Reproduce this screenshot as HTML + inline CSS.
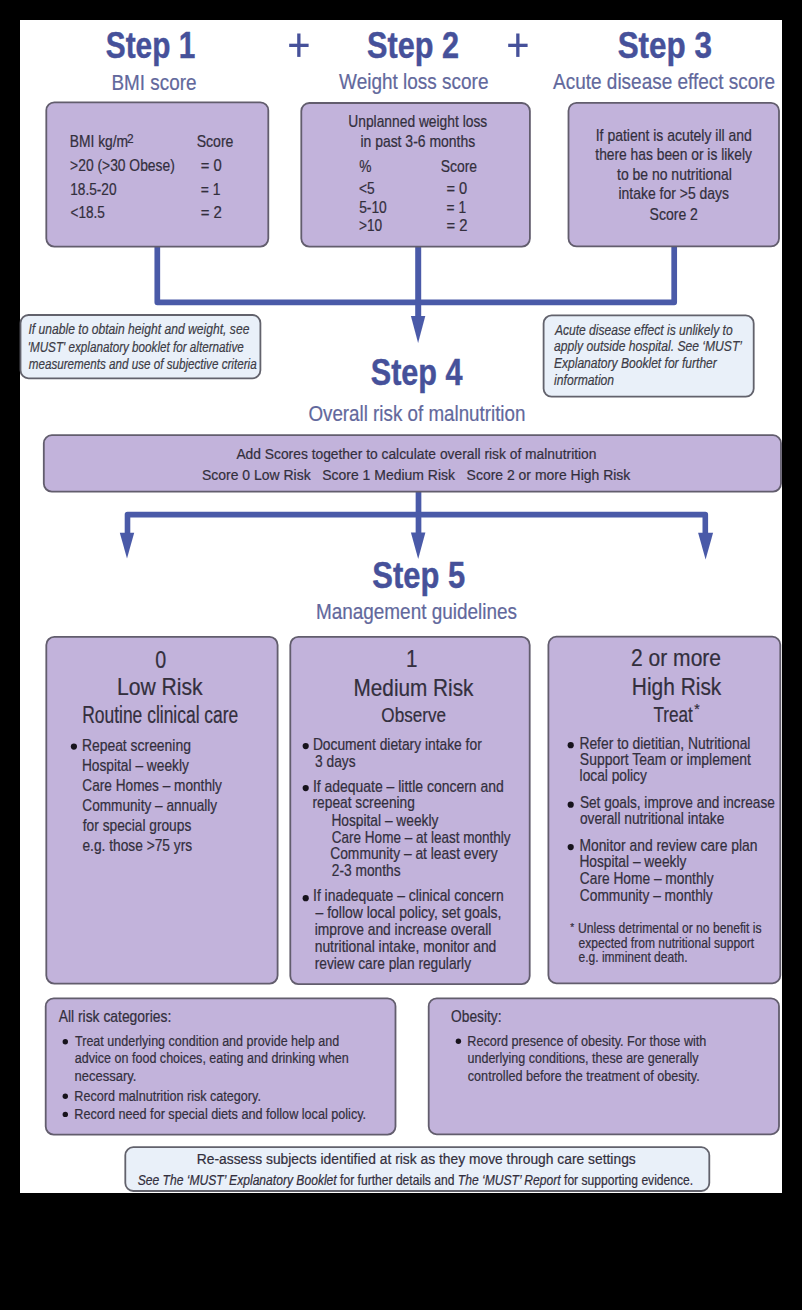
<!DOCTYPE html>
<html><head><meta charset="utf-8"><style>
html,body{margin:0;padding:0;background:#000;}
body{width:802px;height:1310px;overflow:hidden;position:relative;}
svg{position:absolute;left:0;top:0;}
text{font-family:"Liberation Sans",sans-serif;}
</style></head><body>
<svg width="802" height="1310" viewBox="0 0 802 1310">
<rect x="0" y="0" width="802" height="1310" fill="#000"/>
<rect x="20" y="20" width="762" height="1173" fill="#fff"/>
<g font-family="Liberation Sans, sans-serif">
<path d="M157.3,246 V302.3 H674.2 V246" fill="none" stroke="#4a5aa8" stroke-width="5.7" stroke-linejoin="round"/>
<path d="M418.2,246 V318" fill="none" stroke="#4a5aa8" stroke-width="6"/>
<path d="M418.5,491.8 V534" fill="none" stroke="#4a5aa8" stroke-width="5.7"/>
<path d="M127.5,534 V514.6 H705.3 V534" fill="none" stroke="#4a5aa8" stroke-width="5.6" stroke-linejoin="round"/>
<text transform="translate(105.81,58.00) scale(0.8168,1)" font-size="36.5" font-weight="bold" font-style="normal" fill="#46519a" stroke="#46519a" stroke-width="0.45" xml:space="preserve">Step 1</text>
<text transform="translate(367.08,58.00) scale(0.8397,1)" font-size="36.5" font-weight="bold" font-style="normal" fill="#46519a" stroke="#46519a" stroke-width="0.45" xml:space="preserve">Step 2</text>
<text transform="translate(617.66,57.80) scale(0.8607,1)" font-size="36.5" font-weight="bold" font-style="normal" fill="#46519a" stroke="#46519a" stroke-width="0.45" xml:space="preserve">Step 3</text>
<text transform="translate(111.49,89.60) scale(0.8781,1)" font-size="21.5" font-weight="normal" font-style="normal" fill="#62689c" stroke="#62689c" stroke-width="0.22" xml:space="preserve">BMI score</text>
<text transform="translate(339.11,89.40) scale(0.8827,1)" font-size="21.5" font-weight="normal" font-style="normal" fill="#62689c" stroke="#62689c" stroke-width="0.22" xml:space="preserve">Weight loss score</text>
<text transform="translate(553.10,89.40) scale(0.8824,1)" font-size="21.5" font-weight="normal" font-style="normal" fill="#62689c" stroke="#62689c" stroke-width="0.22" xml:space="preserve">Acute disease effect score</text>
<rect x="289.2" y="43.7" width="19.4" height="3.3" fill="#46519a"/>
<rect x="297.2" y="33.5" width="3.3" height="23.4" fill="#46519a"/>
<rect x="508.2" y="43.7" width="19.4" height="3.3" fill="#46519a"/>
<rect x="516.2" y="33.5" width="3.3" height="23.4" fill="#46519a"/>
<rect x="46.3" y="102.3" width="222.0" height="144.3" rx="8" ry="8" fill="#c2b3db" stroke="#625d6d" stroke-width="1.8"/>
<rect x="301.3" y="103.0" width="228.6" height="143.6" rx="8" ry="8" fill="#c2b3db" stroke="#625d6d" stroke-width="1.8"/>
<rect x="568.5" y="102.8" width="210.5" height="143.6" rx="8" ry="8" fill="#c2b3db" stroke="#625d6d" stroke-width="1.8"/>
<text transform="translate(69.69,147.00) scale(0.8655,1)" font-size="16" font-weight="normal" font-style="normal" fill="#332f3d" stroke="#332f3d" stroke-width="0.22" xml:space="preserve">BMI kg/m</text>
<text transform="translate(127.01,142.50) scale(0.9129,1)" font-size="13" font-weight="normal" font-style="normal" fill="#332f3d" stroke="#332f3d" stroke-width="0.22" xml:space="preserve">2</text>
<text transform="translate(196.67,147.00) scale(0.8805,1)" font-size="16" font-weight="normal" font-style="normal" fill="#332f3d" stroke="#332f3d" stroke-width="0.22" xml:space="preserve">Score</text>
<text transform="translate(70.11,171.20) scale(0.8658,1)" font-size="16" font-weight="normal" font-style="normal" fill="#332f3d" stroke="#332f3d" stroke-width="0.22" xml:space="preserve">&gt;20 (&gt;30 Obese)</text>
<text transform="translate(200.66,171.20) scale(0.9258,1)" font-size="16" font-weight="normal" font-style="normal" fill="#332f3d" stroke="#332f3d" stroke-width="0.22" xml:space="preserve">= 0</text>
<text transform="translate(70.17,194.80) scale(0.8556,1)" font-size="16" font-weight="normal" font-style="normal" fill="#332f3d" stroke="#332f3d" stroke-width="0.22" xml:space="preserve">18.5-20</text>
<text transform="translate(200.70,194.80) scale(0.8712,1)" font-size="16" font-weight="normal" font-style="normal" fill="#332f3d" stroke="#332f3d" stroke-width="0.22" xml:space="preserve">= 1</text>
<text transform="translate(70.52,218.30) scale(0.8504,1)" font-size="16" font-weight="normal" font-style="normal" fill="#332f3d" stroke="#332f3d" stroke-width="0.22" xml:space="preserve">&lt;18.5</text>
<text transform="translate(200.65,218.30) scale(0.9363,1)" font-size="16" font-weight="normal" font-style="normal" fill="#332f3d" stroke="#332f3d" stroke-width="0.22" xml:space="preserve">= 2</text>
<text transform="translate(348.26,127.30) scale(0.8637,1)" font-size="16" font-weight="normal" font-style="normal" fill="#332f3d" stroke="#332f3d" stroke-width="0.22" xml:space="preserve">Unplanned weight loss</text>
<text transform="translate(360.39,147.40) scale(0.8731,1)" font-size="16" font-weight="normal" font-style="normal" fill="#332f3d" stroke="#332f3d" stroke-width="0.22" xml:space="preserve">in past 3-6 months</text>
<text transform="translate(359.22,171.80) scale(0.8600,1)" font-size="16" font-weight="normal" font-style="normal" fill="#332f3d" stroke="#332f3d" stroke-width="0.22" xml:space="preserve">%</text>
<text transform="translate(440.77,171.80) scale(0.8681,1)" font-size="16" font-weight="normal" font-style="normal" fill="#332f3d" stroke="#332f3d" stroke-width="0.22" xml:space="preserve">Score</text>
<text transform="translate(359.01,193.50) scale(0.8600,1)" font-size="16" font-weight="normal" font-style="normal" fill="#332f3d" stroke="#332f3d" stroke-width="0.22" xml:space="preserve">&lt;5</text>
<text transform="translate(359.15,212.50) scale(0.8636,1)" font-size="16" font-weight="normal" font-style="normal" fill="#332f3d" stroke="#332f3d" stroke-width="0.22" xml:space="preserve">5-10</text>
<text transform="translate(359.02,231.00) scale(0.8540,1)" font-size="16" font-weight="normal" font-style="normal" fill="#332f3d" stroke="#332f3d" stroke-width="0.22" xml:space="preserve">&gt;10</text>
<text transform="translate(446.47,193.50) scale(0.9164,1)" font-size="16" font-weight="normal" font-style="normal" fill="#332f3d" stroke="#332f3d" stroke-width="0.22" xml:space="preserve">= 0</text>
<text transform="translate(446.51,212.50) scale(0.8617,1)" font-size="16" font-weight="normal" font-style="normal" fill="#332f3d" stroke="#332f3d" stroke-width="0.22" xml:space="preserve">= 1</text>
<text transform="translate(446.46,231.00) scale(0.9268,1)" font-size="16" font-weight="normal" font-style="normal" fill="#332f3d" stroke="#332f3d" stroke-width="0.22" xml:space="preserve">= 2</text>
<text transform="translate(595.74,140.90) scale(0.8738,1)" font-size="16" font-weight="normal" font-style="normal" fill="#332f3d" stroke="#332f3d" stroke-width="0.22" xml:space="preserve">If patient is acutely ill and</text>
<text transform="translate(595.29,160.30) scale(0.8637,1)" font-size="16" font-weight="normal" font-style="normal" fill="#332f3d" stroke="#332f3d" stroke-width="0.22" xml:space="preserve">there has been or is likely</text>
<text transform="translate(617.09,179.80) scale(0.8725,1)" font-size="16" font-weight="normal" font-style="normal" fill="#332f3d" stroke="#332f3d" stroke-width="0.22" xml:space="preserve">to be no nutritional</text>
<text transform="translate(618.49,199.20) scale(0.8728,1)" font-size="16" font-weight="normal" font-style="normal" fill="#332f3d" stroke="#332f3d" stroke-width="0.22" xml:space="preserve">intake for &gt;5 days</text>
<text transform="translate(649.57,220.20) scale(0.8769,1)" font-size="16" font-weight="normal" font-style="normal" fill="#332f3d" stroke="#332f3d" stroke-width="0.22" xml:space="preserve">Score 2</text>
<path d="M410.9,316.0 L425.3,316.0 L418.1,343.0 Z" fill="#4a5aa8"/>
<rect x="20.5" y="315.0" width="239.9" height="63.3" rx="8" ry="8" fill="#e9f0f9" stroke="#62626c" stroke-width="1.8"/>
<text transform="translate(28.42,334.00) scale(0.8359,1)" font-size="14.5" font-weight="normal" font-style="italic" fill="#3c3c46" stroke="#3c3c46" stroke-width="0.2" xml:space="preserve">If unable to obtain height and weight, see</text>
<text transform="translate(27.73,351.60) scale(0.8059,1)" font-size="14.5" font-weight="normal" font-style="italic" fill="#3c3c46" stroke="#3c3c46" stroke-width="0.2" xml:space="preserve">'MUST' explanatory booklet for alternative</text>
<text transform="translate(28.73,369.00) scale(0.8043,1)" font-size="14.5" font-weight="normal" font-style="italic" fill="#3c3c46" stroke="#3c3c46" stroke-width="0.2" xml:space="preserve">measurements and use of subjective criteria</text>
<rect x="543.6" y="315.4" width="210.1" height="81.3" rx="8" ry="8" fill="#e9f0f9" stroke="#62626c" stroke-width="1.8"/>
<text transform="translate(554.90,334.60) scale(0.8337,1)" font-size="14.5" font-weight="normal" font-style="italic" fill="#3c3c46" stroke="#3c3c46" stroke-width="0.2" xml:space="preserve">Acute disease effect is unlikely to</text>
<text transform="translate(554.06,351.20) scale(0.8365,1)" font-size="14.5" font-weight="normal" font-style="italic" fill="#3c3c46" stroke="#3c3c46" stroke-width="0.2" xml:space="preserve">apply outside hospital. See ‘MUST’</text>
<text transform="translate(553.94,368.20) scale(0.8326,1)" font-size="14.5" font-weight="normal" font-style="italic" fill="#3c3c46" stroke="#3c3c46" stroke-width="0.2" xml:space="preserve">Explanatory Booklet for further</text>
<text transform="translate(554.12,385.40) scale(0.8372,1)" font-size="14.5" font-weight="normal" font-style="italic" fill="#3c3c46" stroke="#3c3c46" stroke-width="0.2" xml:space="preserve">information</text>
<text transform="translate(370.78,384.70) scale(0.8381,1)" font-size="36.5" font-weight="bold" font-style="normal" fill="#46519a" stroke="#46519a" stroke-width="0.45" xml:space="preserve">Step 4</text>
<text transform="translate(308.45,421.40) scale(0.8539,1)" font-size="22" font-weight="normal" font-style="normal" fill="#62689c" stroke="#62689c" stroke-width="0.22" xml:space="preserve">Overall risk of malnutrition</text>
<rect x="43.8" y="435.2" width="737.2" height="56.4" rx="8" ry="8" fill="#c2b3db" stroke="#625d6d" stroke-width="1.8"/>
<text transform="translate(236.40,459.00) scale(0.8921,1)" font-size="15.5" font-weight="normal" font-style="normal" fill="#332f3d" stroke="#332f3d" stroke-width="0.22" xml:space="preserve">Add Scores together to calculate overall risk of malnutrition</text>
<text transform="translate(201.97,479.90) scale(0.9011,1)" font-size="15.5" font-weight="normal" font-style="normal" fill="#332f3d" stroke="#332f3d" stroke-width="0.22" xml:space="preserve">Score 0 Low Risk   Score 1 Medium Risk   Score 2 or more High Risk</text>
<path d="M410.9,532.6 L425.4,532.6 L418.2,559.0 Z" fill="#4a5aa8"/>
<path d="M119.8,532.7 L134.2,532.7 L127.0,558.4 Z" fill="#4a5aa8"/>
<path d="M698.1,532.8 L713.1,532.8 L705.6,559.5 Z" fill="#4a5aa8"/>
<text transform="translate(372.27,587.90) scale(0.8475,1)" font-size="36.5" font-weight="bold" font-style="normal" fill="#46519a" stroke="#46519a" stroke-width="0.45" xml:space="preserve">Step 5</text>
<text transform="translate(315.88,618.90) scale(0.8619,1)" font-size="22" font-weight="normal" font-style="normal" fill="#62689c" stroke="#62689c" stroke-width="0.22" xml:space="preserve">Management guidelines</text>
<rect x="46.3" y="636.9" width="231.3" height="346.7" rx="8" ry="8" fill="#c2b3db" stroke="#625d6d" stroke-width="1.8"/>
<rect x="290.3" y="636.9" width="239.4" height="347.2" rx="8" ry="8" fill="#c2b3db" stroke="#625d6d" stroke-width="1.8"/>
<rect x="548.4" y="636.7" width="231.9" height="346.6" rx="8" ry="8" fill="#c2b3db" stroke="#625d6d" stroke-width="1.8"/>
<text transform="translate(155.29,667.60) scale(0.8200,1)" font-size="24" font-weight="normal" font-style="normal" fill="#332f3d" stroke="#332f3d" stroke-width="0.22" xml:space="preserve">0</text>
<text transform="translate(116.91,694.70) scale(0.9188,1)" font-size="23" font-weight="normal" font-style="normal" fill="#332f3d" stroke="#332f3d" stroke-width="0.22" xml:space="preserve">Low Risk</text>
<text transform="translate(82.20,722.60) scale(0.7587,1)" font-size="23" font-weight="normal" font-style="normal" fill="#332f3d" stroke="#332f3d" stroke-width="0.22" xml:space="preserve">Routine clinical care</text>
<circle cx="73.9" cy="746.6" r="3.1" fill="#17131c"/>
<text transform="translate(81.89,751.30) scale(0.8696,1)" font-size="16" font-weight="normal" font-style="normal" fill="#332f3d" stroke="#332f3d" stroke-width="0.22" xml:space="preserve">Repeat screening</text>
<text transform="translate(81.90,771.40) scale(0.8600,1)" font-size="16" font-weight="normal" font-style="normal" fill="#332f3d" stroke="#332f3d" stroke-width="0.22" xml:space="preserve">Hospital – weekly</text>
<text transform="translate(82.32,790.80) scale(0.8538,1)" font-size="16" font-weight="normal" font-style="normal" fill="#332f3d" stroke="#332f3d" stroke-width="0.22" xml:space="preserve">Care Homes – monthly</text>
<text transform="translate(82.32,810.90) scale(0.8520,1)" font-size="16" font-weight="normal" font-style="normal" fill="#332f3d" stroke="#332f3d" stroke-width="0.22" xml:space="preserve">Community – annually</text>
<text transform="translate(82.79,831.30) scale(0.8600,1)" font-size="16" font-weight="normal" font-style="normal" fill="#332f3d" stroke="#332f3d" stroke-width="0.22" xml:space="preserve">for special groups</text>
<text transform="translate(82.45,851.40) scale(0.8600,1)" font-size="16" font-weight="normal" font-style="normal" fill="#332f3d" stroke="#332f3d" stroke-width="0.22" xml:space="preserve">e.g. those &gt;75 yrs</text>
<text transform="translate(405.96,667.20) scale(0.8600,1)" font-size="24" font-weight="normal" font-style="normal" fill="#332f3d" stroke="#332f3d" stroke-width="0.22" xml:space="preserve">1</text>
<text transform="translate(353.54,696.30) scale(0.9024,1)" font-size="23" font-weight="normal" font-style="normal" fill="#332f3d" stroke="#332f3d" stroke-width="0.22" xml:space="preserve">Medium Risk</text>
<text transform="translate(381.33,722.20) scale(0.8156,1)" font-size="21" font-weight="normal" font-style="normal" fill="#332f3d" stroke="#332f3d" stroke-width="0.22" xml:space="preserve">Observe</text>
<circle cx="305.7" cy="746.1" r="3.1" fill="#17131c"/>
<text transform="translate(312.89,749.60) scale(0.8636,1)" font-size="16" font-weight="normal" font-style="normal" fill="#332f3d" stroke="#332f3d" stroke-width="0.22" xml:space="preserve">Document dietary intake for</text>
<text transform="translate(315.05,766.60) scale(0.8600,1)" font-size="16" font-weight="normal" font-style="normal" fill="#332f3d" stroke="#332f3d" stroke-width="0.22" xml:space="preserve">3 days</text>
<circle cx="305.7" cy="788.1" r="3.1" fill="#17131c"/>
<text transform="translate(312.94,791.50) scale(0.8728,1)" font-size="16" font-weight="normal" font-style="normal" fill="#332f3d" stroke="#332f3d" stroke-width="0.22" xml:space="preserve">If adequate – little concern and</text>
<text transform="translate(312.51,808.10) scale(0.8600,1)" font-size="16" font-weight="normal" font-style="normal" fill="#332f3d" stroke="#332f3d" stroke-width="0.22" xml:space="preserve">repeat screening</text>
<text transform="translate(331.40,826.00) scale(0.8600,1)" font-size="16" font-weight="normal" font-style="normal" fill="#332f3d" stroke="#332f3d" stroke-width="0.22" xml:space="preserve">Hospital – weekly</text>
<text transform="translate(331.82,842.80) scale(0.8455,1)" font-size="16" font-weight="normal" font-style="normal" fill="#332f3d" stroke="#332f3d" stroke-width="0.22" xml:space="preserve">Care Home – at least monthly</text>
<text transform="translate(330.21,859.30) scale(0.8646,1)" font-size="16" font-weight="normal" font-style="normal" fill="#332f3d" stroke="#332f3d" stroke-width="0.22" xml:space="preserve">Community – at least every</text>
<text transform="translate(331.81,875.50) scale(0.8600,1)" font-size="16" font-weight="normal" font-style="normal" fill="#332f3d" stroke="#332f3d" stroke-width="0.22" xml:space="preserve">2-3 months</text>
<circle cx="305.7" cy="898.2" r="3.1" fill="#17131c"/>
<text transform="translate(313.05,901.40) scale(0.8688,1)" font-size="16" font-weight="normal" font-style="normal" fill="#332f3d" stroke="#332f3d" stroke-width="0.22" xml:space="preserve">If inadequate – clinical concern</text>
<text transform="translate(315.60,918.20) scale(0.8727,1)" font-size="16" font-weight="normal" font-style="normal" fill="#332f3d" stroke="#332f3d" stroke-width="0.22" xml:space="preserve">– follow local policy, set goals,</text>
<text transform="translate(314.70,935.00) scale(0.8651,1)" font-size="16" font-weight="normal" font-style="normal" fill="#332f3d" stroke="#332f3d" stroke-width="0.22" xml:space="preserve">improve and increase overall</text>
<text transform="translate(314.70,951.80) scale(0.8661,1)" font-size="16" font-weight="normal" font-style="normal" fill="#332f3d" stroke="#332f3d" stroke-width="0.22" xml:space="preserve">nutritional intake, monitor and</text>
<text transform="translate(314.71,968.50) scale(0.8583,1)" font-size="16" font-weight="normal" font-style="normal" fill="#332f3d" stroke="#332f3d" stroke-width="0.22" xml:space="preserve">review care plan regularly</text>
<text transform="translate(630.95,666.40) scale(0.9163,1)" font-size="23" font-weight="normal" font-style="normal" fill="#332f3d" stroke="#332f3d" stroke-width="0.22" xml:space="preserve">2 or more</text>
<text transform="translate(631.83,695.20) scale(0.8720,1)" font-size="24" font-weight="normal" font-style="normal" fill="#332f3d" stroke="#332f3d" stroke-width="0.22" xml:space="preserve">High Risk</text>
<text transform="translate(653.46,722.00) scale(0.7970,1)" font-size="21.5" font-weight="normal" font-style="normal" fill="#332f3d" stroke="#332f3d" stroke-width="0.22" xml:space="preserve">Treat</text>
<text transform="translate(694.29,713.50) scale(1.0000,1)" font-size="14" font-weight="normal" font-style="normal" fill="#332f3d" stroke="#332f3d" stroke-width="0.22" xml:space="preserve">*</text>
<circle cx="570.7" cy="745.2" r="3.1" fill="#17131c"/>
<text transform="translate(579.39,749.00) scale(0.8665,1)" font-size="16" font-weight="normal" font-style="normal" fill="#332f3d" stroke="#332f3d" stroke-width="0.22" xml:space="preserve">Refer to dietitian, Nutritional</text>
<text transform="translate(579.87,765.30) scale(0.8724,1)" font-size="16" font-weight="normal" font-style="normal" fill="#332f3d" stroke="#332f3d" stroke-width="0.22" xml:space="preserve">Support Team or implement</text>
<text transform="translate(579.61,780.90) scale(0.8600,1)" font-size="16" font-weight="normal" font-style="normal" fill="#332f3d" stroke="#332f3d" stroke-width="0.22" xml:space="preserve">local policy</text>
<circle cx="570.7" cy="804.7" r="3.1" fill="#17131c"/>
<text transform="translate(579.89,808.30) scale(0.8537,1)" font-size="16" font-weight="normal" font-style="normal" fill="#332f3d" stroke="#332f3d" stroke-width="0.22" xml:space="preserve">Set goals, improve and increase</text>
<text transform="translate(579.95,824.30) scale(0.8600,1)" font-size="16" font-weight="normal" font-style="normal" fill="#332f3d" stroke="#332f3d" stroke-width="0.22" xml:space="preserve">overall nutritional intake</text>
<circle cx="570.7" cy="847.1" r="3.1" fill="#17131c"/>
<text transform="translate(579.39,850.50) scale(0.8670,1)" font-size="16" font-weight="normal" font-style="normal" fill="#332f3d" stroke="#332f3d" stroke-width="0.22" xml:space="preserve">Monitor and review care plan</text>
<text transform="translate(579.40,867.00) scale(0.8600,1)" font-size="16" font-weight="normal" font-style="normal" fill="#332f3d" stroke="#332f3d" stroke-width="0.22" xml:space="preserve">Hospital – weekly</text>
<text transform="translate(579.81,884.20) scale(0.8600,1)" font-size="16" font-weight="normal" font-style="normal" fill="#332f3d" stroke="#332f3d" stroke-width="0.22" xml:space="preserve">Care Home – monthly</text>
<text transform="translate(579.81,900.70) scale(0.8600,1)" font-size="16" font-weight="normal" font-style="normal" fill="#332f3d" stroke="#332f3d" stroke-width="0.22" xml:space="preserve">Community – monthly</text>
<text transform="translate(570.35,931.00) scale(1.0000,1)" font-size="10" font-weight="normal" font-style="normal" fill="#332f3d" stroke="#332f3d" stroke-width="0.22" xml:space="preserve">*</text>
<text transform="translate(578.09,933.20) scale(0.8675,1)" font-size="14" font-weight="normal" font-style="normal" fill="#332f3d" stroke="#332f3d" stroke-width="0.22" xml:space="preserve">Unless detrimental or no benefit is</text>
<text transform="translate(578.52,948.30) scale(0.8622,1)" font-size="14" font-weight="normal" font-style="normal" fill="#332f3d" stroke="#332f3d" stroke-width="0.22" xml:space="preserve">expected from nutritional support</text>
<text transform="translate(578.52,962.30) scale(0.8599,1)" font-size="14" font-weight="normal" font-style="normal" fill="#332f3d" stroke="#332f3d" stroke-width="0.22" xml:space="preserve">e.g. imminent death.</text>
<rect x="45.7" y="998.3" width="349.8" height="136.3" rx="8" ry="8" fill="#c2b3db" stroke="#625d6d" stroke-width="1.8"/>
<text transform="translate(58.70,1022.00) scale(0.8674,1)" font-size="16" font-weight="normal" font-style="normal" fill="#332f3d" stroke="#332f3d" stroke-width="0.22" xml:space="preserve">All risk categories:</text>
<circle cx="65.3" cy="1041.8" r="2.7" fill="#17131c"/>
<text transform="translate(75.05,1046.40) scale(0.8090,1)" font-size="15.5" font-weight="normal" font-style="normal" fill="#332f3d" stroke="#332f3d" stroke-width="0.22" xml:space="preserve">Treat underlying condition and provide help and</text>
<text transform="translate(74.80,1063.40) scale(0.8096,1)" font-size="15.5" font-weight="normal" font-style="normal" fill="#332f3d" stroke="#332f3d" stroke-width="0.22" xml:space="preserve">advice on food choices, eating and drinking when</text>
<text transform="translate(74.45,1081.40) scale(0.8400,1)" font-size="15.5" font-weight="normal" font-style="normal" fill="#332f3d" stroke="#332f3d" stroke-width="0.22" xml:space="preserve">necessary.</text>
<circle cx="65.3" cy="1096.3" r="2.7" fill="#17131c"/>
<text transform="translate(74.29,1100.90) scale(0.8134,1)" font-size="15.5" font-weight="normal" font-style="normal" fill="#332f3d" stroke="#332f3d" stroke-width="0.22" xml:space="preserve">Record malnutrition risk category.</text>
<circle cx="65.3" cy="1114.4" r="2.7" fill="#17131c"/>
<text transform="translate(74.29,1118.70) scale(0.8161,1)" font-size="15.5" font-weight="normal" font-style="normal" fill="#332f3d" stroke="#332f3d" stroke-width="0.22" xml:space="preserve">Record need for special diets and follow local policy.</text>
<rect x="428.7" y="998.3" width="350.3" height="136.0" rx="8" ry="8" fill="#c2b3db" stroke="#625d6d" stroke-width="1.8"/>
<text transform="translate(451.08,1022.00) scale(0.8600,1)" font-size="16" font-weight="normal" font-style="normal" fill="#332f3d" stroke="#332f3d" stroke-width="0.22" xml:space="preserve">Obesity:</text>
<circle cx="458.4" cy="1041.3" r="2.7" fill="#17131c"/>
<text transform="translate(467.29,1045.90) scale(0.8155,1)" font-size="15.5" font-weight="normal" font-style="normal" fill="#332f3d" stroke="#332f3d" stroke-width="0.22" xml:space="preserve">Record presence of obesity. For those with</text>
<text transform="translate(467.49,1063.00) scale(0.8086,1)" font-size="15.5" font-weight="normal" font-style="normal" fill="#332f3d" stroke="#332f3d" stroke-width="0.22" xml:space="preserve">underlying conditions, these are generally</text>
<text transform="translate(467.79,1081.40) scale(0.8148,1)" font-size="15.5" font-weight="normal" font-style="normal" fill="#332f3d" stroke="#332f3d" stroke-width="0.22" xml:space="preserve">controlled before the treatment of obesity.</text>
<rect x="125.3" y="1147.2" width="584.0" height="43.8" rx="8" ry="8" fill="#e9f0f9" stroke="#62626c" stroke-width="1.8"/>
<text transform="translate(196.79,1164.00) scale(0.8925,1)" font-size="15.5" font-weight="normal" font-style="normal" fill="#332f3d" stroke="#332f3d" stroke-width="0.22" xml:space="preserve">Re-assess subjects identified at risk as they move through care settings</text>
<text transform="translate(137.64,1184.70) scale(0.8650,1)" font-size="14" font-weight="normal" fill="#332f3d" stroke="#332f3d" stroke-width="0.22" xml:space="preserve"><tspan font-style="italic">See The ‘MUST’ Explanatory Booklet</tspan><tspan font-style="normal"> for further details and </tspan><tspan font-style="italic">The ‘MUST’ Report</tspan><tspan font-style="normal"> for supporting evidence.</tspan></text>
</g>
</svg>
</body></html>
